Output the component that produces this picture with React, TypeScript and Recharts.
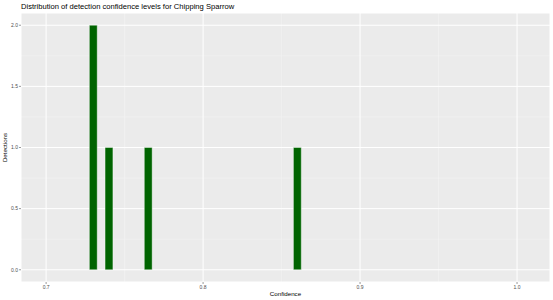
import React from 'react';
import {
  ComposedChart, Bar, XAxis, YAxis, CartesianGrid, Label,
} from 'recharts';

// Histogram bins (centre of each 0.005-wide bin) and counts
const BIN_CENTERS = [0.73, 0.74, 0.765, 0.86];
const DETECTIONS = [2, 1, 1, 1];

const X_TICKS = [0.7, 0.8, 0.9, 1.0];
const X_MINOR = [0.75, 0.85, 0.95];
const Y_TICKS = [0, 0.5, 1, 1.5, 2];
const Y_MINOR = [0.25, 0.75, 1.25, 1.75];

const data = BIN_CENTERS.map((c, i) => ({ conf: c, count: DETECTIONS[i] }));

const FONT = '"Liberation Sans", Arial, sans-serif';
const tickStyle = { fill: '#4D4D4D', fontSize: 5, fontFamily: FONT };

export default function App() {
  return (
    <div style={{ position: 'absolute', left: 0, top: 0, width: 553, height: 300, background: '#fff' }}>
      <svg width={553} height={13} style={{ position: 'absolute', left: 0, top: 0 }}>
        <text x={21} y={9} fontFamily={FONT} fontSize={7.6} fill="#000">
          Distribution of detection confidence levels for Chipping Sparrow
        </text>
      </svg>
      <ComposedChart
        width={553}
        height={300}
        data={data}
        margin={{ top: 13, right: 3, bottom: 0, left: 0 }}
      >
        {/* panel background + minor grid */}
        <CartesianGrid
          fill="#EBEBEB"
          stroke="#F4F4F4"
          strokeWidth={0.6}
          horizontalValues={Y_MINOR}
          verticalValues={X_MINOR}
        />
        {/* major grid */}
        <CartesianGrid stroke="#FFFFFF" strokeWidth={1} />
        <XAxis
          dataKey="conf"
          type="number"
          domain={[0.684, 1.021]}
          ticks={X_TICKS}
          tickFormatter={(v: number) => v.toFixed(1)}
          allowDataOverflow
          axisLine={false}
          tickLine={{ stroke: '#333333', strokeWidth: 0.5 }}
          tickSize={2}
          tick={tickStyle}
          tickMargin={1}
          height={18}
        >
          <Label value="Confidence" position="insideBottom" offset={4} style={{ fill: '#000', fontSize: 6.2, fontFamily: FONT }} />
        </XAxis>
        <YAxis
          type="number"
          domain={[-0.1, 2.1]}
          ticks={Y_TICKS}
          tickFormatter={(v: number) => v.toFixed(1)}
          allowDataOverflow
          axisLine={false}
          tickLine={{ stroke: '#333333', strokeWidth: 0.5 }}
          tickSize={2}
          tick={tickStyle}
          tickMargin={1}
          width={21}
        >
          <Label value="Detections" angle={-90} position="insideLeft" offset={5} style={{ fill: '#000', fontSize: 6.2, fontFamily: FONT, textAnchor: 'middle' }} />
        </YAxis>
        <Bar dataKey="count" fill="#006400" stroke="#FFFFFF" strokeWidth={0.4} barSize={7.85} isAnimationActive={false} />
      </ComposedChart>
    </div>
  );
}
